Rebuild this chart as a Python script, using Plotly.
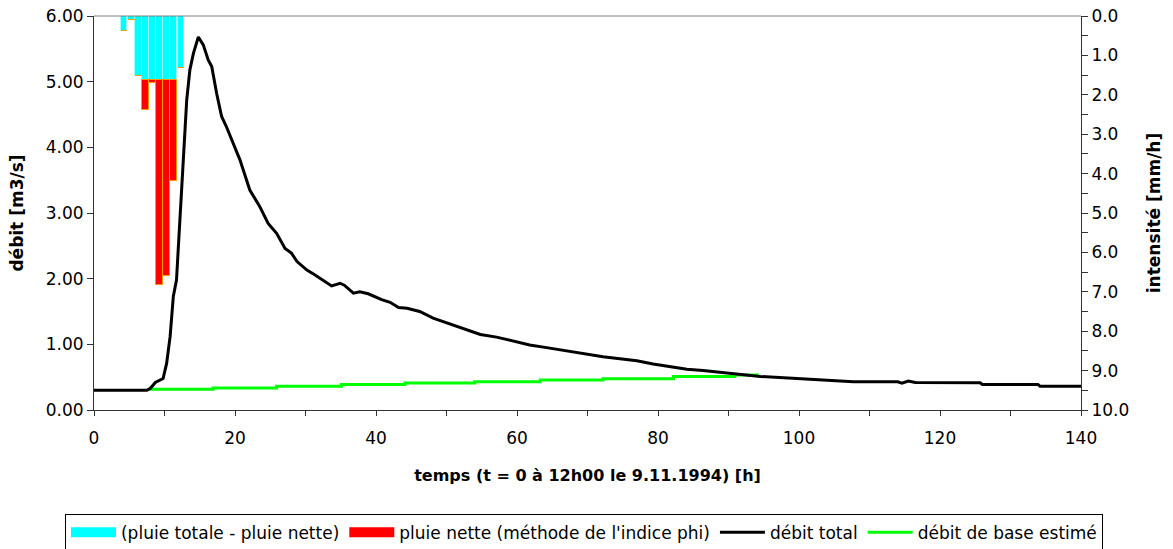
import plotly.graph_objects as go

# ---- data ----
# rain bars (hour centres), intensities in mm/h
rain_t = [4.3, 5.3, 6.3, 7.3, 8.3, 9.3, 10.3, 11.3, 12.3]
rain_excess = [0.37, 0.09, 1.52, 1.63, 1.63, 1.63, 1.63, 1.63, 1.31]   # pluie totale - pluie nette
rain_net = [0.0, 0.0, 0.0, 0.76, 0.08, 5.20, 4.96, 2.56, 0.0]         # pluie nette

# total discharge (m3/s)
q_t = [0, 7.5, 8.0, 8.7, 9.8, 10.3, 10.8, 11.25, 11.7, 12.2, 12.7, 13.15, 13.6, 14.1,
       14.8, 15.5, 16.2, 16.7, 17.4, 18.1, 18.8, 19.8, 20.7, 22.1, 23.5, 24.7, 25.9,
       27.1, 28.0, 28.8, 30.2, 31.3, 32.5, 33.7, 34.9, 35.5, 36.8, 37.7, 38.9, 40.8,
       42.0, 43.2, 44.4, 46.2, 48.1, 50.0, 52.4, 54.8, 57.1, 59.5, 61.8, 64.2, 67.0,
       69.9, 72.2, 74.6, 77.0, 79.3, 81.7, 84.1, 86.4, 88.8, 91.2, 94.5, 99.7, 103.9,
       107.7, 114.0, 114.6, 115.5, 116.5, 125.7, 126.0, 133.9, 134.2, 140]
q_total = [0.30, 0.30, 0.33, 0.42, 0.48, 0.71, 1.12, 1.73, 1.98, 2.89, 3.91, 4.72, 5.18, 5.43,
           5.68, 5.56, 5.33, 5.23, 4.82, 4.47, 4.31, 4.06, 3.81, 3.35, 3.10, 2.84, 2.69,
           2.46, 2.39, 2.26, 2.13, 2.06, 1.97, 1.89, 1.93, 1.90, 1.78, 1.80, 1.77, 1.68,
           1.64, 1.56, 1.55, 1.50, 1.40, 1.33, 1.23, 1.15, 1.11, 1.05, 0.99, 0.95, 0.90,
           0.85, 0.81, 0.78, 0.75, 0.70, 0.66, 0.62, 0.60, 0.57, 0.54, 0.51, 0.48, 0.45,
           0.43, 0.43, 0.41, 0.44, 0.42, 0.415, 0.39, 0.39, 0.36, 0.36]

# estimated base flow (step function)
base_t = [7.7, 16.9, 25.9, 35.1, 44.1, 54.0, 63.3, 72.2, 82.2, 90.9, 94.3]
base_q = [0.315, 0.335, 0.36, 0.39, 0.41, 0.43, 0.455, 0.477, 0.51, 0.533, 0.533]

x_ticks = [0, 20, 40, 60, 80, 100, 120, 140]

FONT = "DejaVu Sans, Liberation Sans, Arial, sans-serif"
AX = "#333333"
FS = 17

fig = go.Figure()

fig.add_trace(go.Bar(x=rain_t, y=rain_excess, yaxis="y2", width=0.9,
                     marker=dict(color="#00FFFF", line=dict(color="#9FFFFF", width=1)),
                     showlegend=False, name="(pluie totale - pluie nette)"))
fig.add_trace(go.Bar(x=rain_t, y=rain_net, yaxis="y2", width=0.9,
                     marker=dict(color="#FF0000", line=dict(color="#FF9900", width=1)),
                     showlegend=False, name="pluie nette (méthode de l'indice phi)"))

fig.add_trace(go.Scatter(x=base_t, y=base_q, mode="lines", line=dict(color="#00FF00", width=3, shape="hv"),
                         showlegend=False, name="débit de base estimé"))
fig.add_trace(go.Scatter(x=q_t, y=q_total, mode="lines", line=dict(color="#000000", width=3),
                         showlegend=False, name="débit total"))

# legend entries (wide swatches like the original)
fig.add_trace(go.Scatter(x=[None], y=[None], mode="lines", line=dict(color="#00FFFF", width=11),
                         name="(pluie totale - pluie nette)"))
fig.add_trace(go.Scatter(x=[None], y=[None], mode="lines", line=dict(color="#FF0000", width=11),
                         name="pluie nette (méthode de l'indice phi)"))
fig.add_trace(go.Scatter(x=[None], y=[None], mode="lines", line=dict(color="#000000", width=3),
                         name="débit total"))
fig.add_trace(go.Scatter(x=[None], y=[None], mode="lines", line=dict(color="#00FF00", width=3),
                         name="débit de base estimé"))

fig.update_layout(
    width=1173, height=549,
    margin=dict(l=94, r=92, t=16, b=139, autoexpand=False),
    paper_bgcolor="white", plot_bgcolor="white",
    font=dict(family=FONT, size=FS, color="black"),
    barmode="stack", bargap=0,
    xaxis=dict(range=[0, 140], tickvals=x_ticks, ticks="outside", ticklen=5, tickcolor=AX,
               showline=True, linecolor=AX, linewidth=1, showgrid=False, zeroline=False,
               automargin=False, ticklabelstandoff=8,
               minor=dict(dtick=10, ticks="outside", ticklen=5, tickcolor=AX),
               title=dict(text="<b>temps (t = 0 à 12h00 le 9.11.1994) [h]</b>", standoff=22,
                          font=dict(size=16)),
               tickfont=dict(size=FS)),
    yaxis=dict(range=[0, 6], dtick=1, tickformat=".2f", ticks="outside", ticklen=6, tickcolor=AX,
               showline=True, linecolor=AX, linewidth=1, showgrid=False, zeroline=False,
               automargin=False,
               title=dict(text="<b>débit [m3/s]</b>", standoff=17, font=dict(size=17)),
               tickfont=dict(size=FS)),
    yaxis2=dict(range=[10, 0], dtick=1, tickformat=".1f", overlaying="y", side="right",
                ticks="outside", ticklen=6, tickcolor=AX, automargin=False,
                minor=dict(dtick=0.5, ticks="outside", ticklen=6, tickcolor=AX),
                showline=True, linecolor=AX, linewidth=1, showgrid=False, zeroline=False,
                title=dict(text="<b>intensité [mm/h]</b>", standoff=19, font=dict(size=17)),
                tickfont=dict(size=FS)),
    legend=dict(orientation="h", x=-0.0294, xanchor="left",
                y=-0.263, yanchor="top",
                bordercolor="black", borderwidth=1, bgcolor="white", traceorder="normal",
                font=dict(size=FS), itemwidth=45, tracegroupgap=0),
    shapes=[dict(type="line", xref="paper", yref="paper", x0=0, x1=1, y0=1, y1=1,
                 line=dict(color="#808080", width=1))],
)

fig.write_html("out.html", config={"displayModeBar": False},
               post_script="document.body.style.margin='0px';document.body.style.overflow='hidden';")
